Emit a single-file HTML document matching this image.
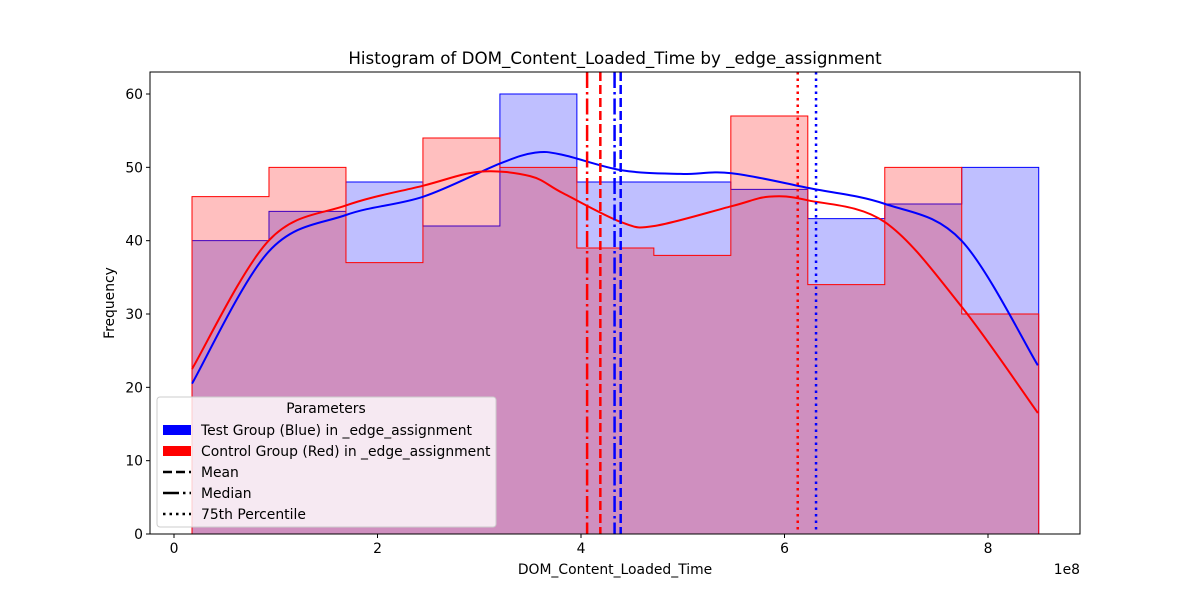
<!DOCTYPE html>
<html><head><meta charset="utf-8"><style>
body{margin:0;background:#fff;font-family:"DejaVu Sans","Liberation Sans",sans-serif;}
svg text{font-family:"DejaVu Sans","Liberation Sans",sans-serif;}
</style></head><body>
<svg id="chart" width="1200" height="600" xmlns="http://www.w3.org/2000/svg">
<rect width="1200" height="600" fill="#fff"/>
<g id="plot"></g>
</svg>
<script>
const binStart = 0.177, binWidth = 0.7565;
const blueCounts = [40,44,48,42,60,48,48,47,43,45,50];
const redCounts = [46,50,37,54,50,39,38,57,34,50,30];
const blueKdeX = [0.177,0.93,1.69,2.45,3.2,3.55,3.82,4.4,4.98,5.48,6.23,6.99,7.74,8.49];
const blueKde = [20.5,38.5,43.5,46,50.5,52,51.7,49.6,49.1,49.2,47.2,45,40,23];
const redKdeX = [0.177,0.93,1.69,2.45,3.0,3.5,3.82,4.4,4.72,5.48,5.85,6.23,6.99,7.74,8.49];
const redKde = [22.5,40,44.8,47.5,49.4,48.8,46.5,42.5,42,44.7,46,45.5,42.5,31,16.5];
const blueStats = {mean:4.39, median:4.33, p75:6.31};
const redStats = {mean:4.19, median:4.06, p75:6.13};
const xTicks = [0,2,4,6,8];
const yTicks = [0,10,20,30,40,50,60];

const X0=150,X1=1080,Y0=72,Y1=534;
const xs = v => 174 + v*101.75;
const ys = v => 534 - v*7.3333;
const NS="http://www.w3.org/2000/svg";
const g=document.getElementById('plot');
function mk(tag,attrs,parent){const e=document.createElementNS(NS,tag);for(const k in attrs)e.setAttribute(k,attrs[k]);(parent||g).appendChild(e);return e;}

function hist(counts,fill,stroke,name){
  let d='M'+xs(binStart)+','+ys(0);
  counts.forEach((c,i)=>{const a=xs(binStart+i*binWidth),b=xs(binStart+(i+1)*binWidth);d+=' L'+a+','+ys(c)+' L'+b+','+ys(c);});
  d+=' L'+xs(binStart+counts.length*binWidth)+','+ys(0)+' Z';
  const p=mk('path',{d:d,fill:fill,'fill-opacity':0.25,stroke:stroke,'stroke-width':1});
  
  
}
hist(blueCounts,'#0000ff','#0000ff','blue-histogram');
hist(redCounts,'#ff0000','#ff0000','red-histogram');

function smooth(xv,yv){
  const pts=xv.map((x,i)=>[xs(x),ys(yv[i])]);
  let d='M'+pts[0][0]+','+pts[0][1];
  for(let i=0;i<pts.length-1;i++){
    const p0=pts[Math.max(0,i-1)],p1=pts[i],p2=pts[i+1],p3=pts[Math.min(pts.length-1,i+2)];
    d+=' C'+(p1[0]+(p2[0]-p0[0])/6)+','+(p1[1]+(p2[1]-p0[1])/6)+' '+(p2[0]-(p3[0]-p1[0])/6)+','+(p2[1]-(p3[1]-p1[1])/6)+' '+p2[0]+','+p2[1];
  }
  return d;
}
let k=mk('path',{d:smooth(blueKdeX,blueKde),fill:'none',stroke:'#0000ff','stroke-width':2});


k=mk('path',{d:smooth(redKdeX,redKde),fill:'none',stroke:'#ff0000','stroke-width':2});



function vline(v,color,dash,name){
  const l=mk('line',{x1:xs(v),x2:xs(v),y1:Y0,y2:Y1,stroke:color,'stroke-width':2.5,'stroke-dasharray':dash});
  
  
}
vline(redStats.median,'#ff0000','16,4,2.5,4','red-median-line');
vline(redStats.mean,'#ff0000','9,4','red-mean-line');
vline(blueStats.median,'#0000ff','16,4,2.5,4','blue-median-line');
vline(blueStats.mean,'#0000ff','9,4','blue-mean-line');
vline(redStats.p75,'#ff0000','2.5,4','red-p75-line');
vline(blueStats.p75,'#0000ff','2.5,4','blue-p75-line');

mk('rect',{x:X0,y:Y0,width:X1-X0,height:Y1-Y0,fill:'none',stroke:'#000','stroke-width':1});

xTicks.forEach(t=>{
  mk('line',{x1:xs(t),x2:xs(t),y1:Y1,y2:Y1+4,stroke:'#000'});
  const tx=mk('text',{x:xs(t),y:Y1+19,'font-size':13.9,'text-anchor':'middle'});tx.textContent=t;
  
  
});
yTicks.forEach(t=>{
  mk('line',{x1:X0-4,x2:X0,y1:ys(t),y2:ys(t),stroke:'#000'});
  const tx=mk('text',{x:X0-7,y:ys(t)+5,'font-size':13.9,'text-anchor':'end'});tx.textContent=t;
  
  
});
</script>
<svg style="position:absolute;left:0;top:0" width="1200" height="600" xmlns="http://www.w3.org/2000/svg">
<text x="615" y="64" font-size="16.7" text-anchor="middle">Histogram of DOM_Content_Loaded_Time by _edge_assignment</text>
<text x="615" y="574" font-size="13.9" text-anchor="middle">DOM_Content_Loaded_Time</text>
<text x="1080" y="574" font-size="13.9" text-anchor="end">1e8</text>
<text x="114" y="303" font-size="13.9" text-anchor="middle" transform="rotate(-90 114 303)">Frequency</text>
<g>
<rect x="157" y="397" width="339" height="130" rx="3" fill="#fff" fill-opacity="0.8" stroke="#ccc"/>
<text x="326" y="413" font-size="13.9" text-anchor="middle">Parameters</text>
<rect x="163" y="425" width="28" height="10" fill="#0000ff"/>
<text x="201" y="435" font-size="13.9">Test Group (Blue) in _edge_assignment</text>
<rect x="163" y="446" width="28" height="10" fill="#ff0000"/>
<text x="201" y="456" font-size="13.9">Control Group (Red) in _edge_assignment</text>
<line x1="163" x2="191" y1="472" y2="472" stroke="#000" stroke-width="2.5" stroke-dasharray="9,4"/>
<text x="201" y="477" font-size="13.9">Mean</text>
<line x1="163" x2="191" y1="493" y2="493" stroke="#000" stroke-width="2.5" stroke-dasharray="16,4,2.5,4"/>
<text x="201" y="498" font-size="13.9">Median</text>
<line x1="163" x2="191" y1="514" y2="514" stroke="#000" stroke-width="2.5" stroke-dasharray="2.5,4"/>
<text x="201" y="519" font-size="13.9">75th Percentile</text>
</g>
</svg>
</body></html>
